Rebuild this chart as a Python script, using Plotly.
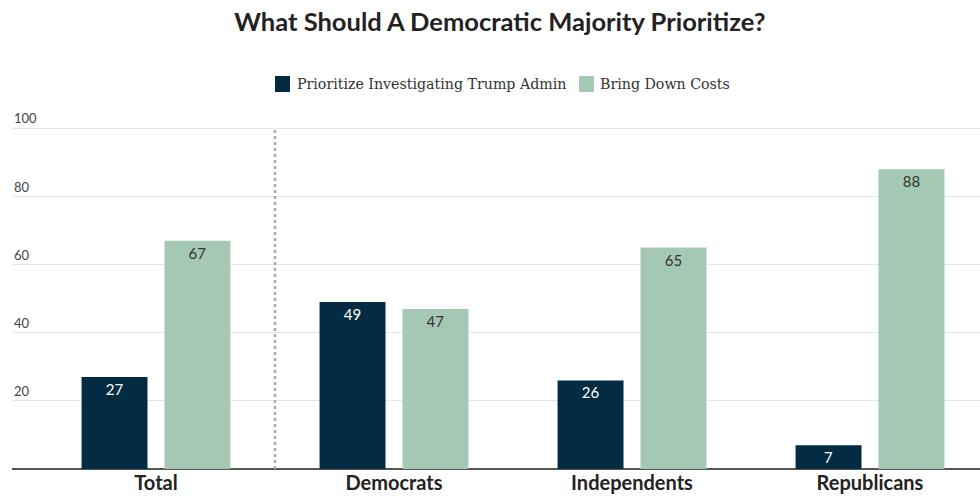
import plotly.graph_objects as go

categories = ["Total", "Democrats", "Independents", "Republicans"]
investigate = [27, 49, 26, 7]
costs = [67, 47, 65, 88]
series_names = ["Prioritize Investigating Trump Admin", "Bring Down Costs"]
ytick_vals = [20, 40, 60, 80, 100]

DARK = "#032b43"
LIGHT = "#a5c8b4"

W, H = 980, 496
ML, MR, MT, MB = 12, 0, 125, 27
PW, PH = W - ML - MR, H - MT - MB


def px_x(p):
    return (p - ML) / PW


def px_y(p):
    return (H - MB - p) / PH


x = list(range(len(categories)))

fig = go.Figure()
fig.add_trace(go.Bar(
    x=x, y=investigate, name=series_names[0], marker_color=DARK,
    marker_line_width=0,
    text=[str(v) for v in investigate], textposition="inside", insidetextanchor="end",
    textfont=dict(family="Lato", size=15, color="#ffffff"), textangle=0,
    showlegend=False,
))
fig.add_trace(go.Bar(
    x=x, y=costs, name=series_names[1], marker_color=LIGHT,
    marker_line_width=0,
    text=[str(v) for v in costs], textposition="inside", insidetextanchor="end",
    textfont=dict(family="Lato", size=15, color="#333333"), textangle=0,
    showlegend=False,
))

fig.add_shape(type="line", x0=0.5, x1=0.5, y0=0, y1=100, xref="x", yref="y",
              line=dict(color="#aaaaaa", width=2.5, dash="dot"), layer="above")

# custom legend
legend_items = [(275, 290, 295, series_names[0], DARK), (579, 594, 598, series_names[1], LIGHT)]
for x0, x1, tx, name, col in legend_items:
    fig.add_shape(type="rect", xref="paper", yref="paper",
                  x0=px_x(x0), x1=px_x(x1), y0=px_y(92), y1=px_y(76),
                  fillcolor=col, line_width=0)
    fig.add_annotation(xref="paper", yref="paper", x=px_x(tx), y=px_y(84),
                       xanchor="left", yanchor="middle", text=name, showarrow=False,
                       font=dict(family="DejaVu Serif", size=14.2, color="#333333"))

# y tick labels above gridlines
for v in ytick_vals:
    fig.add_annotation(xref="paper", yref="y", x=0, y=v, yshift=10,
                       xanchor="left", yanchor="middle", text=str(v), showarrow=False,
                       font=dict(family="Lato", size=13, color="#444444"))

fig.update_layout(
    width=W, height=H,
    margin=dict(l=ML, r=MR, t=MT, b=MB),
    paper_bgcolor="white", plot_bgcolor="white",
    barmode="group", bargap=0.303, bargroupgap=0.205,
    title=dict(text="<b>What Should A Democratic Majority Prioritize?</b>",
               x=0.51, xanchor="center", y=1 - 22 / H, yanchor="middle",
               font=dict(family="Lato", size=25.5, color="#222222")),
    showlegend=False,
    uniformtext=dict(mode=False),
)

fig.update_xaxes(
    range=[-144 / 238, 3 + 110 / 238],
    tickvals=x, ticktext=["<b>%s</b>" % c for c in categories],
    tickfont=dict(family="Lato", size=20, color="#222222"),
    showgrid=False, zeroline=False, showline=False, ticks="", ticklen=0,
)
fig.update_yaxes(
    range=[0, 101], tickvals=ytick_vals,
    showticklabels=False,
    showgrid=True, gridcolor="#e6e6e6", gridwidth=1,
    zeroline=True, zerolinecolor="#555555", zerolinewidth=1.5,
    showline=False, ticks="",
)

fig.write_html("out.html")
